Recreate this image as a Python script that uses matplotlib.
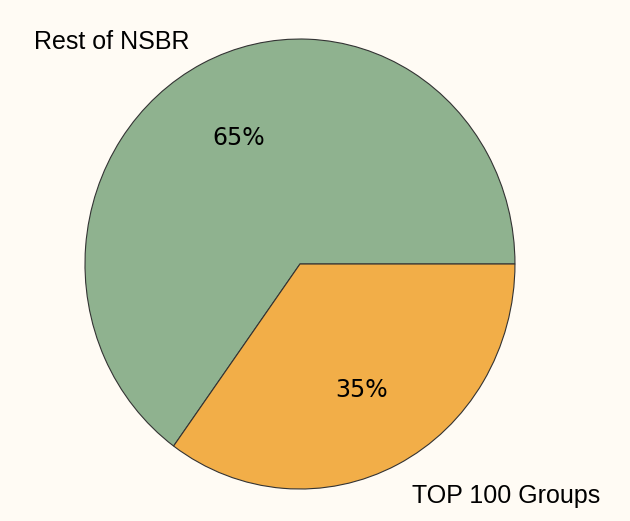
import matplotlib.pyplot as plt

# Share of NSBR
labels = ["Rest of NSBR", "TOP 100 Groups"]
shares = [65, 35]
colors = ["#8fb28f", "#f2ae48"]

bg = "#fffbf4"

fig = plt.figure(figsize=(6.3, 5.21), dpi=100)
fig.patch.set_facecolor(bg)

# the original pie is slightly taller than wide, so no equal aspect
ax = fig.add_axes([0.1349, 0.0614, 0.6825, 0.8637])
ax.set_facecolor(bg)

wedges, texts, pct_texts = ax.pie(
    shares,
    colors=colors,
    startangle=0,
    counterclock=True,
    autopct="%d%%",
    pctdistance=0.63,
    wedgeprops={"edgecolor": "#333333", "linewidth": 0.8},
    textprops={"fontsize": 17, "family": "DejaVu Sans", "color": "black"},
)
ax.set_xlim(-1, 1)
ax.set_ylim(-1, 1)
ax.set_aspect("auto")

# category labels placed off to the corners
ax.text(-0.874, 0.987, labels[0], ha="center", va="center",
        fontsize=18, family="Liberation Sans")
ax.text(0.960, -1.031, labels[1], ha="center", va="center",
        fontsize=18, family="Liberation Sans")

fig.savefig("out.png", dpi=100, facecolor=bg)
